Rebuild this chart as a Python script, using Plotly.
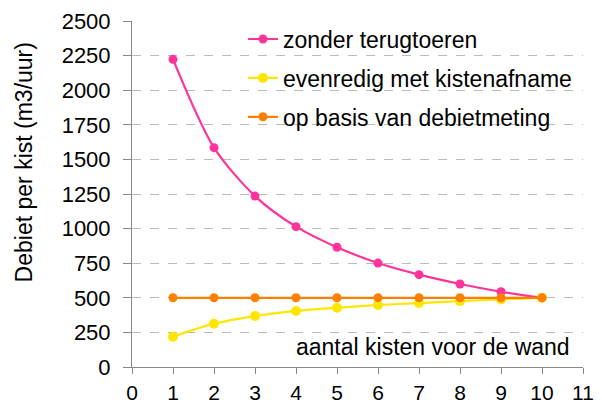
import plotly.graph_objects as go

x_kisten = [1, 2, 3, 4, 5, 6, 7, 8, 9, 10]
zonder_terugtoeren = [2223, 1585, 1235, 1014, 865, 751, 667, 600, 544, 500]
evenredig = [219, 313, 368, 405, 428, 448, 462, 476, 488, 500]
debietmeting = [500, 500, 500, 500, 500, 500, 500, 500, 500, 500]

names = ["zonder terugtoeren", "evenredig met kistenafname", "op basis van debietmeting"]
colors = ["#FF3399", "#FFE600", "#FF8000"]
msizes = [9, 10, 9]
series = [zonder_terugtoeren, evenredig, debietmeting]

fig = go.Figure()
for i, (n, c, s, ms) in enumerate(zip(names, colors, series, msizes)):
    fig.add_trace(go.Scatter(
        x=x_kisten, y=s, name=n, mode="lines+markers", legendgroup=f"g{i}",
        line=dict(color=c, width=2.2, shape="spline", smoothing=0.8),
        marker=dict(color=c, size=ms),
    ))

font_family = "Liberation Sans, Arial, sans-serif"
fig.update_layout(
    width=602, height=405,
    margin=dict(l=132, r=19, t=21, b=38),
    paper_bgcolor="white", plot_bgcolor="white",
    font=dict(family=font_family, size=22, color="black"),
    showlegend=True,
    legend=dict(x=0.246, y=1.01, xanchor="left", yanchor="top",
                bgcolor="rgba(0,0,0,0)", font=dict(size=23),
                traceorder="grouped", tracegroupgap=6, itemwidth=30),
    xaxis=dict(range=[0, 11], tickvals=list(range(0, 12)), showgrid=False,
               zeroline=False, showline=True, linecolor="#888888", linewidth=1,
               ticks="outside", ticklen=6, tickcolor="#888888", automargin=False,
               tickfont=dict(size=21), ticklabelstandoff=1),
    yaxis=dict(range=[0, 2500], tickvals=list(range(0, 2501, 250)),
               showgrid=True, gridcolor="#BBBBBB", griddash="dash", gridwidth=1,
               zeroline=False, showline=True, linecolor="#888888", linewidth=1,
               ticks="outside", ticklen=8, tickcolor="#888888", automargin=False,
               tickfont=dict(size=22), ticklabelstandoff=8),
    annotations=[
        dict(text="aantal kisten voor de wand", x=10.73, y=145,
             xref="x", yref="y", xanchor="right", yanchor="middle",
             showarrow=False, font=dict(size=23, color="black")),
        dict(text="Debiet per kist (m3/uur)", x=-0.239, y=0.592,
             xref="paper", yref="paper", xanchor="center", yanchor="middle",
             textangle=-90, showarrow=False, font=dict(size=23, color="black")),
    ],
)

fig.write_html("out.html", config={"displayModeBar": False},
               post_script="document.body.style.margin='0';")
